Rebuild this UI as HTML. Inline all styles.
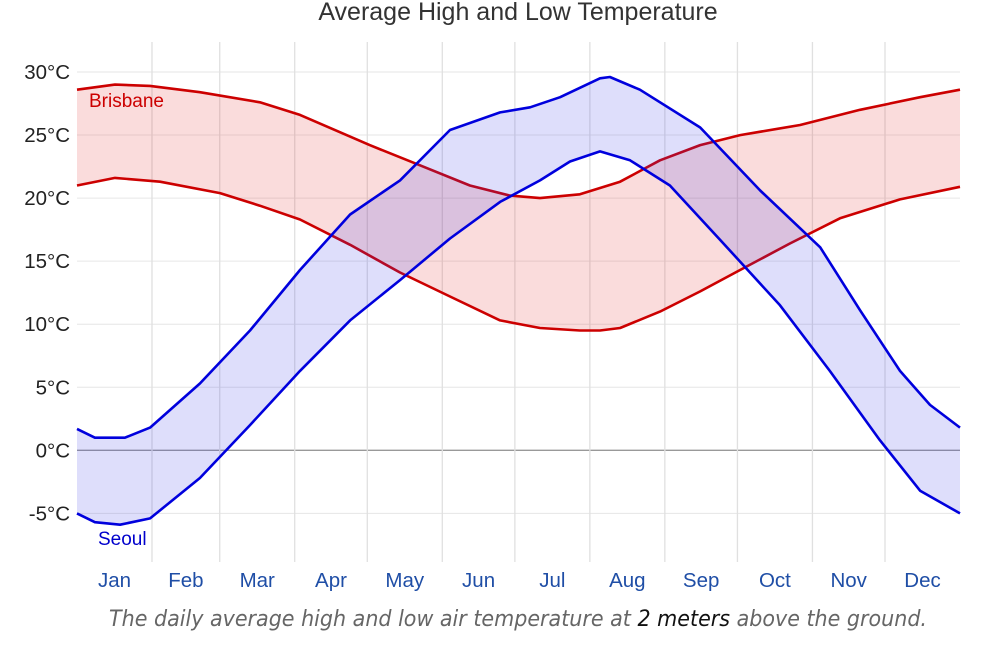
<!DOCTYPE html>
<html><head><meta charset="utf-8"><style>
body{margin:0;background:#fff;width:998px;height:657px;overflow:hidden;font-family:"Liberation Sans",sans-serif}
</style></head><body>
<svg width="998" height="657" xmlns="http://www.w3.org/2000/svg">
<text x="518" y="20" text-anchor="middle" font-size="25" fill="#333">Average High and Low Temperature</text>
<g id="grid"></g>
<g id="series"></g>
<g id="labels"></g>
<text x="518" y="626" text-anchor="middle" font-size="22" font-style="italic" fill="#666" font-family="'DejaVu Sans','Liberation Sans',sans-serif" textLength="818" lengthAdjust="spacingAndGlyphs">The daily average high and low air temperature at <tspan fill="#111">2 meters</tspan> above the ground.</text>
</svg>
<script>
const months=["Jan","Feb","Mar","Apr","May","Jun","Jul","Aug","Sep","Oct","Nov","Dec"];
const monthDays=[31,28,31,30,31,30,31,31,30,31,30,31];
const yTicks=[-5,0,5,10,15,20,25,30];
const brisHighDays=[0,15.7,30.2,50.8,75.6,92.2,121,141.8,162.4,179,191.4,207.9,224.5,241,257.6,274.1,298.9,323.7,348.5,365];
const brisHigh=[28.6,29.0,28.9,28.4,27.6,26.6,24.2,22.6,21.0,20.2,20.0,20.3,21.3,23.0,24.2,25.0,25.8,27.0,28.0,28.6];
const brisLowDays=[0,15.7,34.3,59.1,75.6,92.2,112.9,133.5,154.2,174.9,191.4,207.9,216.2,224.5,241,257.6,274.1,294.7,315.4,340.2,365];
const brisLow=[21.0,21.6,21.3,20.4,19.4,18.3,16.3,14.1,12.2,10.3,9.7,9.5,9.5,9.7,11.0,12.6,14.3,16.4,18.4,19.9,20.9];
const seoulHighDays=[0,7.4,19.8,30.2,50.8,71.5,92.2,112.9,133.5,154.2,174.9,187.3,199.7,216.2,220.3,232.7,257.6,282.4,307.2,323.7,340.2,352.6,365];
const seoulHigh=[1.7,1.0,1.0,1.8,5.3,9.5,14.3,18.7,21.4,25.4,26.8,27.2,28.0,29.5,29.6,28.6,25.6,20.6,16.1,11.1,6.3,3.6,1.8];
const seoulLowDays=[0,7.4,17.8,30.2,50.8,71.5,92.2,112.9,133.5,154.2,174.9,191.4,203.8,216.2,228.6,245.1,265.8,290.6,311.2,331.9,348.5,365];
const seoulLow=[-5.0,-5.7,-5.9,-5.4,-2.2,2.0,6.3,10.3,13.5,16.8,19.7,21.4,22.9,23.7,23.0,21.0,16.7,11.5,6.3,0.8,-3.2,-5.0];

const NS="http://www.w3.org/2000/svg";
const X0=77,X1=960,Y0=450.3,PX=12.61;
const xs=d=>X0+d*(X1-X0)/365;
const ys=t=>Y0-t*PX;
function mk(tag,attrs,parent){const e=document.createElementNS(NS,tag);for(const k in attrs)e.setAttribute(k,attrs[k]);parent.appendChild(e);return e;}
const grid=document.getElementById('grid'),series=document.getElementById('series'),labels=document.getElementById('labels');
yTicks.forEach(t=>{
  const l=mk('line',{x1:X0,x2:X1,y1:ys(t),y2:ys(t),stroke:t===0?'#999':'#e6e6e6','stroke-width':t===0?1.3:1},grid);
  
  
  const tx=mk('text',{x:70,y:ys(t)+7,'text-anchor':'end','font-size':20.5,fill:'#222'},labels);
  tx.textContent=t+'°C';
  
  
});
let cum=0;
months.forEach((m,i)=>{
  const start=cum;cum+=monthDays[i];
  if(i>0){const g=mk('line',{x1:xs(start),x2:xs(start),y1:42,y2:562,stroke:'#e0e0e0','stroke-width':1.3},grid);
    
    }
  const tx=mk('text',{x:xs((start+cum)/2),y:587,'text-anchor':'middle','font-size':20.5,fill:'#1f4ea6'},labels);
  tx.textContent=m;
  
  
});
function pts(days,vals){return days.map((d,i)=>xs(d).toFixed(1)+','+ys(vals[i]).toFixed(1));}
function band(hd,h,ld,l,fill,stroke,name){
  const poly=mk('polygon',{points:pts(hd,h).concat(pts(ld,l).reverse()).join(' '),fill:fill,stroke:'none'},series);
  
  
  const a=mk('polyline',{points:pts(hd,h).join(' '),fill:'none',stroke:stroke,'stroke-width':2.6,'stroke-linejoin':'round'},series);
  
  
  const b=mk('polyline',{points:pts(ld,l).join(' '),fill:'none',stroke:stroke,'stroke-width':2.6,'stroke-linejoin':'round'},series);
  
  
}
band(brisHighDays,brisHigh,brisLowDays,brisLow,'rgba(230,60,60,0.18)','#cc0000','brisbane');
band(seoulHighDays,seoulHigh,seoulLowDays,seoulLow,'rgba(60,60,230,0.17)','#0000dd','seoul');
const bl=mk('text',{x:89,y:107,'font-size':19,fill:'#cc0000'},labels);bl.textContent='Brisbane';


const sl=mk('text',{x:98,y:545,'font-size':19,fill:'#0000cc'},labels);sl.textContent='Seoul';


</script>
</body></html>
